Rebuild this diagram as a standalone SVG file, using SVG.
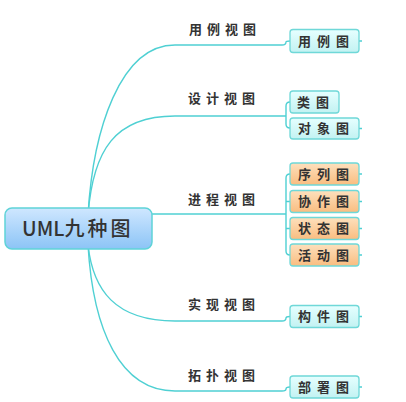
<svg xmlns="http://www.w3.org/2000/svg" width="406" height="402" viewBox="0 0 406 402">
<defs>
<linearGradient id="gRoot" x1="0" y1="0" x2="0" y2="1"><stop offset="0" stop-color="#cfe7ff"/><stop offset="1" stop-color="#8cc4f6"/></linearGradient>
<linearGradient id="gCyan" x1="0" y1="0" x2="0" y2="1"><stop offset="0" stop-color="#e6ffff"/><stop offset="1" stop-color="#c2f2f2"/></linearGradient>
<linearGradient id="gOrange" x1="0" y1="0" x2="0" y2="1"><stop offset="0" stop-color="#fde0bd"/><stop offset="1" stop-color="#f9bd80"/></linearGradient>
</defs>
<style>
.c{fill:none;stroke:#4fd0d3;stroke-width:1.4}
.box{stroke:#6fd8d8;stroke-width:1.3}
.cy{fill:url(#gCyan)}
.or{fill:url(#gOrange)}
.t{font-family:"Noto Sans CJK SC","Noto Sans",sans-serif;font-size:13px;fill:#333;letter-spacing:5px;font-weight:700}
.n{font-family:"Noto Sans CJK SC","Noto Sans",sans-serif;font-size:13px;fill:#333;letter-spacing:6px;font-weight:700}
</style>
<rect width="406" height="402" fill="#fff"/>
<g id="connectors">
<path class="c" d="M88,215 C93,130 120,45 175,45 L282,45 Q286,45 286,42 Q286,41 290,41"/>
<path class="c" d="M88,215 C93,150 115,116 175,116 L286,116"/>
<path class="c" d="M290,102 Q286,102 286,106 L286,124 Q286,128 290,128"/>
<path class="c" d="M120,214 L286,214"/>
<path class="c" d="M290,174 Q286,174 286,178 L286,251 Q286,255 290,255 M286,201.5 L290,201.5 M286,228.5 L290,228.5"/>
<path class="c" d="M88,245 C93,290 115,321 175,321 L282,321 Q286,321 286,318 Q286,316.5 290,316.5"/>
<path class="c" d="M88,245 C93,330 120,391 175,391 L282,391 Q286,391 286,389 Q286,387 290,387"/>
<path class="c" d="M359,41 H362 M359,128.5 H362 M359,174 H362 M359,201.5 H362 M359,228.5 H362 M359,255 H362 M359,316.5 H362 M359,387 H362"/>
</g>
<g id="root">
<rect x="5" y="208" width="147" height="41" rx="7" fill="url(#gRoot)" stroke="#5fd3d8" stroke-width="1.5"/>
<text x="22" y="235.5" font-family="'Noto Sans CJK SC','Noto Sans',sans-serif" font-size="20" font-weight="500" fill="#333"><tspan letter-spacing="0">UML</tspan><tspan letter-spacing="3">九种图</tspan></text>
</g>
<g id="label-usecase"><text class="t" x="189" y="34">用例视图</text></g>
<g id="label-design"><text class="t" x="188" y="103">设计视图</text></g>
<g id="label-process"><text class="t" x="188" y="204">进程视图</text></g>
<g id="label-impl"><text class="t" x="188" y="309">实现视图</text></g>
<g id="label-topo"><text class="t" x="188" y="380">拓扑视图</text></g>
<g id="node-usecase"><rect class="box cy" x="290" y="29.5" width="69" height="23" rx="3"/><text class="n" x="298" y="45.5">用例图</text></g>
<g id="node-class"><rect class="box cy" x="290" y="91" width="49" height="22" rx="3"/><text class="n" x="297" y="106.5">类图</text></g>
<g id="node-object"><rect class="box cy" x="290" y="118" width="69" height="21" rx="3"/><text class="n" x="298" y="133">对象图</text></g>
<g id="node-seq"><rect class="box or" x="290" y="163" width="69" height="22" rx="3"/><text class="n" x="298" y="178.5">序列图</text></g>
<g id="node-collab"><rect class="box or" x="290" y="190.5" width="69" height="22" rx="3"/><text class="n" x="298" y="206">协作图</text></g>
<g id="node-state"><rect class="box or" x="290" y="217.5" width="69" height="22" rx="3"/><text class="n" x="298" y="233">状态图</text></g>
<g id="node-activity"><rect class="box or" x="290" y="244" width="69" height="22" rx="3"/><text class="n" x="298" y="259.5">活动图</text></g>
<g id="node-component"><rect class="box cy" x="290" y="305.5" width="69" height="22" rx="3"/><text class="n" x="298" y="321">构件图</text></g>
<g id="node-deploy"><rect class="box cy" x="290" y="376" width="69" height="22" rx="3"/><text class="n" x="298" y="391.5">部署图</text></g>
</svg>
